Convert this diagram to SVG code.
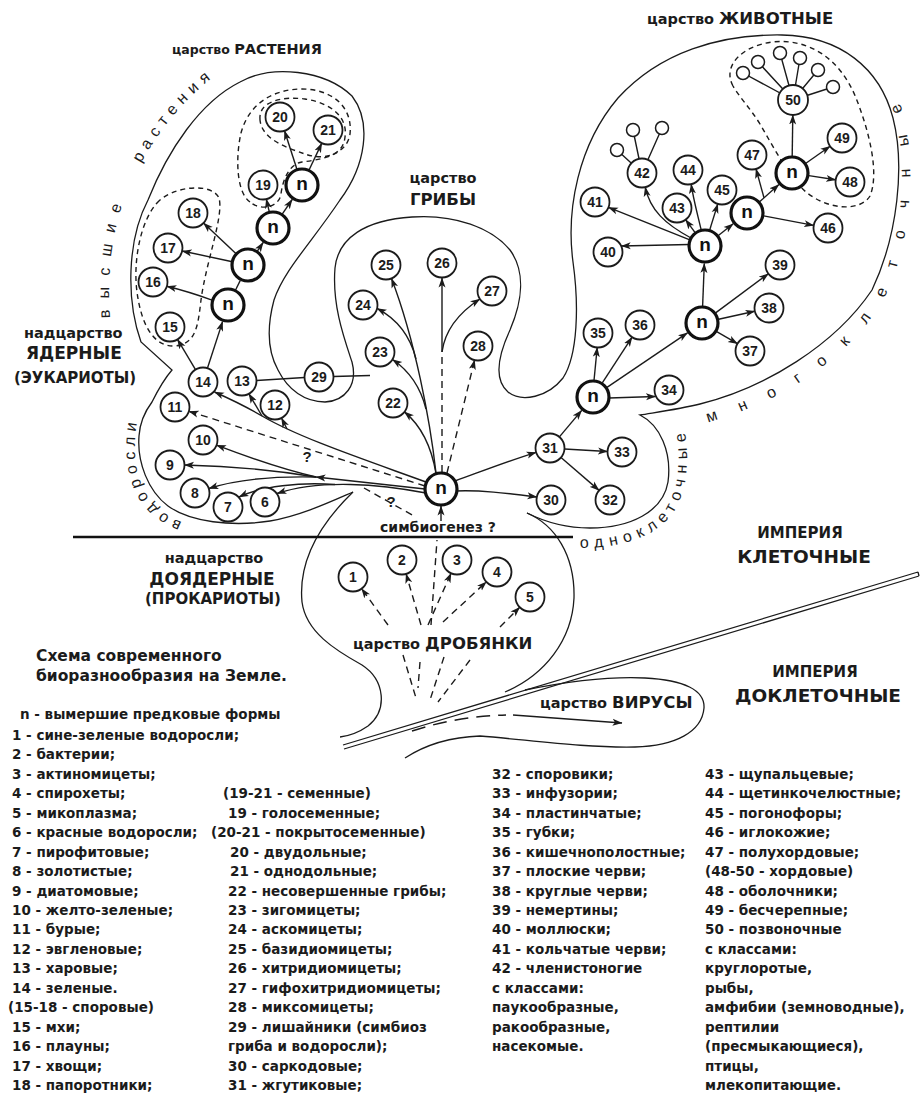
<svg xmlns="http://www.w3.org/2000/svg" width="921" height="1094" viewBox="0 0 921 1094">
<defs>
<style>
.k{fill:none;stroke:#1b1b1b;stroke-width:1.3}
.l{fill:none;stroke:#1b1b1b;stroke-width:1.4}
.d{stroke-dasharray:7 5}
.dz{fill:none;stroke:#1b1b1b;stroke-width:1.4;stroke-dasharray:5 4}
.a{marker-end:url(#ah)}
.c{fill:#fff;stroke:#1b1b1b;stroke-width:1.8}
.cb{fill:#fff;stroke:#111;stroke-width:3.2}
.s{fill:#fff;stroke:#1b1b1b;stroke-width:1.5}
.nt{font-family:"Liberation Sans",Arial,sans-serif;font-weight:bold;font-size:14px;text-anchor:middle;fill:#1b1b1b}
.nn{font-family:"Liberation Sans",Arial,sans-serif;font-weight:bold;font-size:19px;text-anchor:middle;fill:#111}
.lb{font-family:"DejaVu Sans",sans-serif;font-weight:bold;fill:#1b1b1b}
.lg{font-family:"DejaVu Sans",sans-serif;font-weight:bold;font-size:13.5px;fill:#1b1b1b}
.arc{font-family:"Liberation Sans",Arial,sans-serif;font-size:16px;fill:#1b1b1b}
.q{font-family:"Liberation Sans",Arial,sans-serif;font-weight:bold;font-size:15px;text-anchor:middle;fill:#1b1b1b}
.m{text-anchor:middle}
</style>
<marker id="ah" viewBox="0 0 10 8" refX="9.5" refY="4" markerWidth="10" markerHeight="8" markerUnits="userSpaceOnUse" orient="auto"><path d="M0,0.5 L10,4 L0,7.5 L2.5,4 z" fill="#1b1b1b"/></marker>
<path id="tp1" d="M110,318 C107,270 112,228 128,190 C148,142 186,92 230,66 C240,60 250,56 260,53"/>
<path id="tp2" d="M182,522 C170,518 158,510 150,500 C140,486 134,466 135,445 C135,428 138,414 143,402 C145,396 147,392 150,388"/>
<path id="tp3" d="M580,548 C622,548 660,536 676,508 C688,486 690,455 683,420 C681,412 679,406 676,400"/>
<path id="tp4" d="M708,422 C778,403 848,360 884,298 C910,246 917,170 903,115 C898,98 892,88 886,80 C882,75 878,71 874,68"/>
</defs>
<rect width="921" height="1094" fill="#fff"/>

<g id="outlines">
<path class="k" d="M353,492 C330,502 300,516 270,521 C232,527 190,522 168,506 C148,491 137,462 139,436 C140,420 146,410 152,402 C158,390 165,378 172,370 L141,342 C126,300 127,240 148,200 C168,150 200,102 240,82 C272,64 325,70 352,96 C372,122 366,165 340,200 C312,242 284,270 274,300 C266,330 268,352 278,370 C288,390 305,402 325,402 C345,401 358,385 352,362 C344,338 332,305 335,268 C338,238 365,220 412,217 C455,214 492,228 510,250 C526,272 522,302 510,330 C498,356 494,380 508,392 C522,403 548,397 563,378 C578,355 579,305 573,262 C566,210 578,145 618,98 C660,52 720,34 782,35 C840,36 880,68 893,118 C905,165 898,235 872,290 C835,345 765,388 700,404 C680,409 658,412 640,415 C660,425 672,452 668,482 C663,512 630,528 590,528 C565,528 543,521 527,513"/>
<path class="k" d="M527,513 C555,525 575,555 574,598 C572,640 545,675 505,692"/>
<path class="k" d="M353,492 C322,522 298,560 302,602 C306,632 335,650 362,665 C385,680 388,710 368,726 C358,733 348,736 340,737"/>
<path class="k" d="M405,758 C425,745 450,737 480,736 C530,740 585,748 635,747 C675,746 702,732 704,708 C705,690 684,680 645,678 C605,676 565,682 525,690"/>
<path class="k" d="M343,745 L918,572 M344,749 L919,576 M918,572 L919,576"/>
<line x1="73" y1="537" x2="573" y2="537" stroke="#111" stroke-width="2.6"/>
<path class="dz" d="M157,203 C172,186 212,182 219,198 C224,216 206,262 201,300 C198,326 196,344 175,346 C152,347 141,322 137,292 C133,262 140,222 157,203 Z"/>
<path class="dz" d="M250,202 C237,193 235,160 241,133 C249,103 274,89 302,89 C331,89 353,106 350,134 C347,156 318,160 302,162 C290,164 283,178 281,194 C279,208 260,211 250,202 Z"/>
<path class="dz" d="M260,120 C258,101 283,96 305,99 C331,103 348,117 345,137 C343,157 322,160 305,154 C288,148 262,140 260,120 Z"/>
<path class="dz" d="M733,86 C722,66 742,46 772,42 C808,38 840,58 856,98 C868,128 880,172 870,196 C860,212 828,210 806,192 C790,178 775,150 760,124 C750,108 740,98 733,86 Z"/>
</g>

<g id="connectors">
<path class="l a" d="M207.5,368 L222.6,321.6"/>
<path class="l a" d="M195.5,369.6 L177.5,339.4"/>
<path class="l a" d="M212.7,300.3 C195,294 182,290 166.9,286.3"/>
<path class="l" d="M235.2,290.7 L240.2,280.6"/>
<path class="l a" d="M232.4,261.7 L182.2,251"/>
<path class="l a" d="M236.4,254 L203.5,223"/>
<path class="l a" d="M257,251.7 L263.2,242.5"/>
<path class="l a" d="M269.4,212.4 L266.3,199.1"/>
<path class="l a" d="M281.9,214.7 L292.2,199.5"/>
<path class="l a" d="M297.1,169.8 L284.5,130.8"/>
<path class="l a" d="M308.8,170.5 L321.8,143.1"/>

<path class="l a" d="M426,482 C360,458 300,438 262,416 C245,406 228,398 214.5,392"/>
<path class="l a" d="M262,416 L248.9,393.8"/>
<path class="l a" d="M287,429 L281.5,418"/>
<path class="l d a" d="M425,486 L189,411.3"/>
<path class="l a" d="M425,489 L316,477"/>
<path class="l a" d="M316,477 C285,470 250,458 216.5,445.2"/>
<path class="l a" d="M316,477 C280,471 230,466 184.5,465"/>
<path class="l a" d="M316,477 C270,476 235,480 208.8,488.5"/>
<path class="l a" d="M426,493 C380,484 320,479 277,493.5"/>
<path class="l a" d="M335,484.5 C300,482 262,486 239,497"/>
<path class="l d" d="M364,488 L414,516"/>

<path class="l a" d="M436,473.5 C432,450 424,428 404.4,411.9"/>
<path class="l a" d="M436,473 C430,420 415,340 391.5,278.5"/>
<path class="l a" d="M416,359 C410,335 395,318 377.1,308.4"/>
<path class="l a" d="M426,409 C420,385 408,370 392.5,359.5"/>
<path class="l d" d="M442,472 L442,352"/>
<path class="l a" d="M442,352 L442,278"/>
<path class="l a" d="M442,352 C445,330 460,312 479.9,299"/>
<path class="l d a" d="M447,473 L474.6,360.1"/>
<path class="l" d="M256.5,380.5 L304.5,377.5 M333.5,376.5 L370,375.5"/>
<path class="l a" d="M441,521 L441,506"/>

<path class="l a" d="M456,491 C480,490 505,493 536.8,497"/>
<path class="l a" d="M455,481 C480,472 505,462 536.1,452.3"/>
<path class="l a" d="M564.5,449 L607.5,451.5"/>
<path class="l a" d="M561,457.5 L599.1,490.4"/>
<path class="l a" d="M559.4,436.9 L581.7,410.4"/>
<path class="l a" d="M609,398 L655.5,396.5"/>
<path class="l a" d="M594,380.5 L597.2,347.5"/>
<path class="l a" d="M602.3,382.8 L632.1,337.1"/>
<path class="l a" d="M607,387.4 L687.5,332.8"/>
<path class="l a" d="M716.7,331.6 L737.5,343.7"/>
<path class="l a" d="M718.6,319.3 L754.8,311.2"/>
<path class="l a" d="M715.6,312.9 L768.4,273.7"/>
<path class="l a" d="M702.6,306.5 L704.3,263.5"/>
<path class="l a" d="M689,244.5 L621.2,246"/>
<path class="l a" d="M689.2,239.7 L608.5,207.4"/>
<path class="l a" d="M691,238 C665,224 650,210 645.2,187.1"/>
<path class="l a" d="M695.5,233.1 L685.6,219.7"/>
<path class="l a" d="M701.3,230.4 C697,212 693,198 691.2,184.2"/>
<path class="l a" d="M709.6,230.2 L717.8,203.9"/>
<path class="l a" d="M718.4,235.5 L733.2,223.8"/>
<path class="l a" d="M763.7,215.9 L813.7,225.4"/>
<path class="l a" d="M759.3,202 L778.9,184.6"/>
<path class="l a" d="M764,197.8 L756,168.9"/>
<path class="l a" d="M792.2,156 L792.8,115"/>
<path class="l a" d="M805.9,163.2 L830.1,146.3"/>
<path class="l a" d="M808.8,175.6 L835.7,179.8"/>
<path class="l" d="M793,100 L743,73 M793,100 L758,62 M793,100 L780,53 M793,100 L800,58 M793,100 L818,70 M793,100 L833,87"/>
<path class="l" d="M642,173 L617,150 M642,173 L633,130 M642,173 L662,128"/>

<path class="l d a" d="M388,625 L361.6,588.6"/>
<path class="l d a" d="M421,625 L406.1,573.9"/>
<path class="l d a" d="M428,625 L451.1,573.2"/>
<path class="l d a" d="M443,622 L486.4,581.8"/>
<path class="l d a" d="M500,627 L519.7,607.3"/>
<path class="l d" d="M431,625 L437,540"/>
<path class="l d" d="M403,655 L416,698 M420,662 L418,688 M444,657 L430,700 M470,660 L438,702"/>
<path class="l" d="M412,731 C440,722 470,716 506,715" stroke-dasharray="14 8"/>
<path class="l a" d="M513,715 L622,723"/>
</g>

<g id="small-circles">
<circle class="s" cx="743" cy="73" r="6.5"/><circle class="s" cx="758" cy="62" r="6.5"/><circle class="s" cx="780" cy="53" r="6.5"/><circle class="s" cx="800" cy="58" r="6.5"/><circle class="s" cx="818" cy="70" r="6.5"/><circle class="s" cx="833" cy="87" r="6.5"/>
<circle class="s" cx="617" cy="150" r="6.5"/><circle class="s" cx="633" cy="130" r="6.5"/><circle class="s" cx="662" cy="128" r="6.5"/>
</g>

<g id="n0"><circle class="cb" cx="441" cy="489" r="16"/><text class="nn" x="441" y="494">n</text></g>
<g id="na"><circle class="cb" cx="302" cy="185" r="16"/><text class="nn" x="302" y="190">n</text></g>
<g id="nb"><circle class="cb" cx="273" cy="228" r="16"/><text class="nn" x="273" y="233">n</text></g>
<g id="nc"><circle class="cb" cx="248" cy="265" r="16"/><text class="nn" x="248" y="270">n</text></g>
<g id="nd"><circle class="cb" cx="228" cy="305" r="16"/><text class="nn" x="228" y="310">n</text></g>
<g id="ne"><circle class="cb" cx="593" cy="397" r="16"/><text class="nn" x="593" y="402">n</text></g>
<g id="nf"><circle class="cb" cx="702" cy="323" r="16"/><text class="nn" x="702" y="328">n</text></g>
<g id="ng"><circle class="cb" cx="705" cy="246" r="16"/><text class="nn" x="705" y="251">n</text></g>
<g id="ni"><circle class="cb" cx="747" cy="213" r="16"/><text class="nn" x="747" y="218">n</text></g>
<g id="nh"><circle class="cb" cx="792" cy="173" r="16"/><text class="nn" x="792" y="178">n</text></g>

<g id="node1"><circle class="c" cx="353" cy="577" r="14.5"/><text class="nt" x="353" y="582">1</text></g>
<g id="node2"><circle class="c" cx="402" cy="560" r="14.5"/><text class="nt" x="402" y="565">2</text></g>
<g id="node3"><circle class="c" cx="457" cy="560" r="14.5"/><text class="nt" x="457" y="565">3</text></g>
<g id="node4"><circle class="c" cx="497" cy="572" r="14.5"/><text class="nt" x="497" y="577">4</text></g>
<g id="node5"><circle class="c" cx="530" cy="597" r="14.5"/><text class="nt" x="530" y="602">5</text></g>
<g id="node6"><circle class="c" cx="265" cy="502" r="14.5"/><text class="nt" x="265" y="507">6</text></g>
<g id="node7"><circle class="c" cx="228" cy="507" r="14.5"/><text class="nt" x="228" y="512">7</text></g>
<g id="node8"><circle class="c" cx="195" cy="493" r="14.5"/><text class="nt" x="195" y="498">8</text></g>
<g id="node9"><circle class="c" cx="170" cy="465" r="14.5"/><text class="nt" x="170" y="470">9</text></g>
<g id="node10"><circle class="c" cx="203" cy="440" r="14.5"/><text class="nt" x="203" y="445">10</text></g>
<g id="node11"><circle class="c" cx="175" cy="407" r="14.5"/><text class="nt" x="175" y="412">11</text></g>
<g id="node12"><circle class="c" cx="275" cy="405" r="14.5"/><text class="nt" x="275" y="410">12</text></g>
<g id="node13"><circle class="c" cx="242" cy="381" r="14.5"/><text class="nt" x="242" y="386">13</text></g>
<g id="node14"><circle class="c" cx="203" cy="382" r="14.5"/><text class="nt" x="203" y="387">14</text></g>
<g id="node15"><circle class="c" cx="170" cy="327" r="14.5"/><text class="nt" x="170" y="332">15</text></g>
<g id="node16"><circle class="c" cx="153" cy="282" r="14.5"/><text class="nt" x="153" y="287">16</text></g>
<g id="node17"><circle class="c" cx="168" cy="248" r="14.5"/><text class="nt" x="168" y="253">17</text></g>
<g id="node18"><circle class="c" cx="193" cy="213" r="14.5"/><text class="nt" x="193" y="218">18</text></g>
<g id="node19"><circle class="c" cx="263" cy="185" r="14.5"/><text class="nt" x="263" y="190">19</text></g>
<g id="node20"><circle class="c" cx="280" cy="117" r="14.5"/><text class="nt" x="280" y="122">20</text></g>
<g id="node21"><circle class="c" cx="328" cy="130" r="14.5"/><text class="nt" x="328" y="135">21</text></g>
<g id="node22"><circle class="c" cx="393" cy="403" r="14.5"/><text class="nt" x="393" y="408">22</text></g>
<g id="node23"><circle class="c" cx="380" cy="352" r="14.5"/><text class="nt" x="380" y="357">23</text></g>
<g id="node24"><circle class="c" cx="363" cy="305" r="14.5"/><text class="nt" x="363" y="310">24</text></g>
<g id="node25"><circle class="c" cx="386" cy="265" r="14.5"/><text class="nt" x="386" y="270">25</text></g>
<g id="node26"><circle class="c" cx="442" cy="263" r="14.5"/><text class="nt" x="442" y="268">26</text></g>
<g id="node27"><circle class="c" cx="492" cy="291" r="14.5"/><text class="nt" x="492" y="296">27</text></g>
<g id="node28"><circle class="c" cx="478" cy="346" r="14.5"/><text class="nt" x="478" y="351">28</text></g>
<g id="node29"><circle class="c" cx="319" cy="377" r="14.5"/><text class="nt" x="319" y="382">29</text></g>
<g id="node30"><circle class="c" cx="551" cy="500" r="14.5"/><text class="nt" x="551" y="505">30</text></g>
<g id="node31"><circle class="c" cx="550" cy="448" r="14.5"/><text class="nt" x="550" y="453">31</text></g>
<g id="node32"><circle class="c" cx="610" cy="500" r="14.5"/><text class="nt" x="610" y="505">32</text></g>
<g id="node33"><circle class="c" cx="622" cy="452" r="14.5"/><text class="nt" x="622" y="457">33</text></g>
<g id="node34"><circle class="c" cx="669" cy="390" r="14.5"/><text class="nt" x="669" y="395">34</text></g>
<g id="node35"><circle class="c" cx="598" cy="333" r="14.5"/><text class="nt" x="598" y="338">35</text></g>
<g id="node36"><circle class="c" cx="640" cy="325" r="14.5"/><text class="nt" x="640" y="330">36</text></g>
<g id="node37"><circle class="c" cx="750" cy="351" r="14.5"/><text class="nt" x="750" y="356">37</text></g>
<g id="node38"><circle class="c" cx="769" cy="308" r="14.5"/><text class="nt" x="769" y="313">38</text></g>
<g id="node39"><circle class="c" cx="780" cy="265" r="14.5"/><text class="nt" x="780" y="270">39</text></g>
<g id="node40"><circle class="c" cx="608" cy="252" r="14.5"/><text class="nt" x="608" y="257">40</text></g>
<g id="node41"><circle class="c" cx="595" cy="202" r="14.5"/><text class="nt" x="595" y="207">41</text></g>
<g id="node42"><circle class="c" cx="642" cy="173" r="14.5"/><text class="nt" x="642" y="178">42</text></g>
<g id="node43"><circle class="c" cx="677" cy="208" r="14.5"/><text class="nt" x="677" y="213">43</text></g>
<g id="node44"><circle class="c" cx="688" cy="170" r="14.5"/><text class="nt" x="688" y="175">44</text></g>
<g id="node45"><circle class="c" cx="722" cy="190" r="14.5"/><text class="nt" x="722" y="195">45</text></g>
<g id="node46"><circle class="c" cx="828" cy="228" r="14.5"/><text class="nt" x="828" y="233">46</text></g>
<g id="node47"><circle class="c" cx="752" cy="155" r="14.5"/><text class="nt" x="752" y="160">47</text></g>
<g id="node48"><circle class="c" cx="850" cy="182" r="14.5"/><text class="nt" x="850" y="187">48</text></g>
<g id="node49"><circle class="c" cx="842" cy="138" r="14.5"/><text class="nt" x="842" y="143">49</text></g>
<g id="node50"><circle class="c" cx="793" cy="100" r="15"/><text class="nt" x="793" y="105">50</text></g>

<g id="labels">
<text class="q" x="307" y="462">?</text>
<text class="q" x="391" y="507">?</text>
<text class="arc"><textPath href="#tp1" letter-spacing="11">высшие</textPath></text>
<text class="arc"><textPath href="#tp1" startOffset="160" letter-spacing="6">растения</textPath></text>
<text class="arc"><textPath href="#tp2" letter-spacing="5">водоросли</textPath></text>
<text class="arc" font-size="15"><textPath href="#tp3" letter-spacing="6">одноклеточные</textPath></text>
<text class="arc"><textPath href="#tp4" letter-spacing="23">многоклеточные</textPath></text>

<text class="lb" x="172" y="54" font-size="12.5">царство <tspan font-size="14.5">РАСТЕНИЯ</tspan></text>
<text class="lb" x="647" y="24" font-size="14.5">царство <tspan font-size="16.5">ЖИВОТНЫЕ</tspan></text>
<text class="lb m" x="443" y="183" font-size="14.5">царство</text>
<text class="lb m" x="443" y="205" font-size="16.5">ГРИБЫ</text>
<text class="lb" x="24" y="338" font-size="14.5">надцарство</text>
<text class="lb" x="26" y="359" font-size="17">ЯДЕРНЫЕ</text>
<text class="lb" x="14" y="383" font-size="15">(ЭУКАРИОТЫ)</text>
<text class="lb m" x="214" y="563" font-size="14.5">надцарство</text>
<text class="lb m" x="212" y="585" font-size="17">ДОЯДЕРНЫЕ</text>
<text class="lb m" x="213" y="604" font-size="15">(ПРОКАРИОТЫ)</text>
<text class="lb m" x="800" y="538" font-size="15">ИМПЕРИЯ</text>
<text class="lb m" x="804" y="563" font-size="18.5">КЛЕТОЧНЫЕ</text>
<text class="lb m" x="815" y="677" font-size="15">ИМПЕРИЯ</text>
<text class="lb m" x="818" y="702" font-size="18.5">ДОКЛЕТОЧНЫЕ</text>
<text class="lb" x="353" y="649" font-size="14.5">царство <tspan font-size="16.5">ДРОБЯНКИ</tspan></text>
<text class="lb" x="540" y="708" font-size="14.5">царство <tspan font-size="16.5">ВИРУСЫ</tspan></text>
<text class="lb m" x="438" y="532" font-size="14">симбиогенез ?</text>
<text class="lb" x="36" y="661" font-size="15.5">Схема современного</text>
<text class="lb" x="36" y="681" font-size="15.5">биоразнообразия на Земле.</text>
<text class="lg" x="20" y="719">n - вымершие предковые формы</text>
</g>

<g id="legend" class="lg">
<text x="12" y="740">1 - сине-зеленые водоросли;</text>
<text x="12" y="759.4">2 - бактерии;</text>
<text x="12" y="778.9">3 - актиномицеты;</text>
<text x="12" y="798.3">4 - спирохеты;</text>
<text x="12" y="817.8">5 - микоплазма;</text>
<text x="12" y="837.2">6 - красные водоросли;</text>
<text x="12" y="856.6">7 - пирофитовые;</text>
<text x="12" y="876.1">8 - золотистые;</text>
<text x="12" y="895.5">9 - диатомовые;</text>
<text x="12" y="915">10 - желто-зеленые;</text>
<text x="12" y="934.4">11 - бурые;</text>
<text x="12" y="953.8">12 - эвгленовые;</text>
<text x="12" y="973.3">13 - харовые;</text>
<text x="12" y="992.7">14 - зеленые.</text>
<text x="8" y="1012.2">(15-18 - споровые)</text>
<text x="12" y="1031.6">15 - мхи;</text>
<text x="12" y="1051">16 - плауны;</text>
<text x="12" y="1070.5">17 - хвощи;</text>
<text x="12" y="1090">18 - папоротники;</text>

<text x="223" y="798.3">(19-21 - семенные)</text>
<text x="228" y="817.8">19 - голосеменные;</text>
<text x="211" y="837.2">(20-21 - покрытосеменные)</text>
<text x="230" y="856.6">20 - двудольные;</text>
<text x="230" y="876.1">21 - однодольные;</text>
<text x="228" y="895.5">22 - несовершенные грибы;</text>
<text x="228" y="915">23 - зигомицеты;</text>
<text x="228" y="934.4">24 - аскомицеты;</text>
<text x="228" y="953.8">25 - базидиомицеты;</text>
<text x="228" y="973.3">26 - хитридиомицеты;</text>
<text x="228" y="992.7">27 - гифохитридиомицеты;</text>
<text x="228" y="1012.2">28 - миксомицеты;</text>
<text x="228" y="1031.6">29 - лишайники (симбиоз</text>
<text x="228" y="1051">гриба и водоросли);</text>
<text x="228" y="1070.5">30 - саркодовые;</text>
<text x="228" y="1090">31 - жгутиковые;</text>

<text x="492" y="778.9">32 - споровики;</text>
<text x="492" y="798.3">33 - инфузории;</text>
<text x="492" y="817.8">34 - пластинчатые;</text>
<text x="492" y="837.2">35 - губки;</text>
<text x="492" y="856.6">36 - кишечнополостные;</text>
<text x="492" y="876.1">37 - плоские черви;</text>
<text x="492" y="895.5">38 - круглые черви;</text>
<text x="492" y="915">39 - немертины;</text>
<text x="492" y="934.4">40 - моллюски;</text>
<text x="492" y="953.8">41 - кольчатые черви;</text>
<text x="492" y="973.3">42 - членистоногие</text>
<text x="492" y="992.7">с классами:</text>
<text x="492" y="1012.2">паукообразные,</text>
<text x="492" y="1031.6">ракообразные,</text>
<text x="492" y="1051">насекомые.</text>

<text x="705" y="778.9">43 - щупальцевые;</text>
<text x="705" y="798.3">44 - щетинкочелюстные;</text>
<text x="705" y="817.8">45 - погонофоры;</text>
<text x="705" y="837.2">46 - иглокожие;</text>
<text x="705" y="856.6">47 - полухордовые;</text>
<text x="705" y="876.1">(48-50 - хордовые)</text>
<text x="705" y="895.5">48 - оболочники;</text>
<text x="705" y="915">49 - бесчерепные;</text>
<text x="705" y="934.4">50 - позвоночные</text>
<text x="705" y="953.8">с классами:</text>
<text x="705" y="973.3">круглоротые,</text>
<text x="705" y="992.7">рыбы,</text>
<text x="705" y="1012.2">амфибии (земноводные),</text>
<text x="705" y="1031.6">рептилии</text>
<text x="705" y="1051">(пресмыкающиеся),</text>
<text x="705" y="1070.5">птицы,</text>
<text x="705" y="1090">млекопитающие.</text>
</g>
</svg>
